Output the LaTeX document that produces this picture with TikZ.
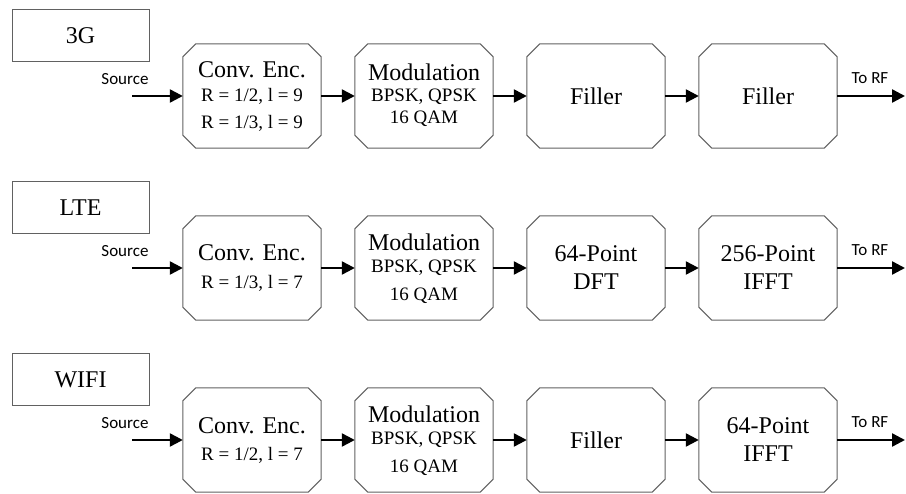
\documentclass[tikz,border=0pt]{standalone}
\usepackage{fontspec}
\setmainfont{Liberation Serif}
\newfontfamily\labelsans{Carlito}
\usetikzlibrary{arrows.meta}

\tikzset{
  blk/.style={rectangle, minimum width=138pt, minimum height=104pt, inner sep=0pt},
  blkline/.style={draw=black!62, line width=1pt, line join=miter},
  tagbox/.style={rectangle, draw=black!62, line width=1pt,
    minimum width=137pt, minimum height=52pt, inner sep=0pt,
    font=\fontsize{24}{26}\selectfont},
  big/.style={inner sep=0pt, font=\fontsize{24}{26}\selectfont},
  small/.style={inner sep=0pt, font=\fontsize{19}{21}\selectfont},
  side/.style={inner sep=0pt, font=\labelsans\fontsize{17}{19}\selectfont},
  flow/.style={line width=2.4pt, -{Triangle[length=13pt,width=13pt]}}
}
% octagonal outline around a named block
\newcommand\octo[1]{%
  \draw[blkline] ([xshift=13pt]#1.north west) -- ([xshift=-13pt]#1.north east)
    -- ([yshift=-13pt]#1.north east) -- ([yshift=13pt]#1.south east)
    -- ([xshift=-13pt]#1.south east) -- ([xshift=13pt]#1.south west)
    -- ([yshift=13pt]#1.south west) -- ([yshift=-13pt]#1.north west) -- cycle;}

\begin{document}
\begin{tikzpicture}[x=1pt,y=-1pt]
\path[use as bounding box, fill=white] (0,0) rectangle (906,494);

% ---------- 3G chain ----------
\node[tagbox] (tag1) at (80.5,36) {3G};
\node[blk] (enc1) at (252,96) {};
\node[blk] (mod1) at (424,96) {};
\node[blk] (fa1) at (596,96) {};
\node[blk] (fb1) at (768,96) {};
\octo{enc1}\octo{mod1}\octo{fa1}\octo{fb1}
\node[big]   (enc1a) at ([yshift=26pt]enc1.center) {Conv. Enc.};
\node[small] (enc1b) at (enc1.center) {R = 1/2, l = 9};
\node[small] (enc1c) at ([yshift=-27pt]enc1.center) {R = 1/3, l = 9};
\node[big]   (mod1a) at ([yshift=24pt]mod1.center) {Modulation};
\node[small] (mod1b) at ([yshift=-1pt]mod1.center) {BPSK, QPSK};
\node[small] (mod1c) at ([yshift=-23pt]mod1.center) {16 QAM};
\node[big]   (fa1t) at (fa1.center) {Filler};
\node[big]   (fb1t) at (fb1.center) {Filler};
\coordinate (in1) at (132,96);
\coordinate (out1) at (905,96);
\node[side] (src1) at (125,79) {Source};
\node[side] (rf1) at (870,78) {To RF};
\draw[flow] (in1) -- (enc1);
\draw[flow] (enc1) -- (mod1);
\draw[flow] (mod1) -- (fa1);
\draw[flow] (fa1) -- (fb1);
\draw[flow] (fb1) -- (out1);

% ---------- LTE chain ----------
\node[tagbox] (tag2) at (80.5,208) {LTE};
\node[blk] (enc2) at (252,268) {};
\node[blk] (mod2) at (424,268) {};
\node[blk] (dft2) at (596,268) {};
\node[blk] (ifft2) at (768,268) {};
\octo{enc2}\octo{mod2}\octo{dft2}\octo{ifft2}
\node[big]   (enc2a) at ([yshift=15pt]enc2.center) {Conv. Enc.};
\node[small] (enc2b) at ([yshift=-15pt]enc2.center) {R = 1/3, l = 7};
\node[big]   (mod2a) at ([yshift=26pt]mod2.center) {Modulation};
\node[small] (mod2b) at (mod2.center) {BPSK, QPSK};
\node[small] (mod2c) at ([yshift=-28pt]mod2.center) {16 QAM};
\node[big]   (dft2a) at ([yshift=14pt]dft2.center) {64-Point};
\node[big]   (dft2b) at ([yshift=-14pt]dft2.center) {DFT};
\node[big]   (ifft2a) at ([yshift=14pt]ifft2.center) {256-Point};
\node[big]   (ifft2b) at ([yshift=-14pt]ifft2.center) {IFFT};
\coordinate (in2) at (132,268);
\coordinate (out2) at (905,268);
\node[side] (src2) at (125,251) {Source};
\node[side] (rf2) at (870,250) {To RF};
\draw[flow] (in2) -- (enc2);
\draw[flow] (enc2) -- (mod2);
\draw[flow] (mod2) -- (dft2);
\draw[flow] (dft2) -- (ifft2);
\draw[flow] (ifft2) -- (out2);

% ---------- WIFI chain ----------
\node[tagbox] (tag3) at (80.5,380) {WIFI};
\node[blk] (enc3) at (252,440) {};
\node[blk] (mod3) at (424,440) {};
\node[blk] (fa3) at (596,440) {};
\node[blk] (ifft3) at (768,440) {};
\octo{enc3}\octo{mod3}\octo{fa3}\octo{ifft3}
\node[big]   (enc3a) at ([yshift=14pt]enc3.center) {Conv. Enc.};
\node[small] (enc3b) at ([yshift=-15pt]enc3.center) {R = 1/2, l = 7};
\node[big]   (mod3a) at ([yshift=26pt]mod3.center) {Modulation};
\node[small] (mod3b) at (mod3.center) {BPSK, QPSK};
\node[small] (mod3c) at ([yshift=-28pt]mod3.center) {16 QAM};
\node[big]   (fa3t) at (fa3.center) {Filler};
\node[big]   (ifft3a) at ([yshift=14pt]ifft3.center) {64-Point};
\node[big]   (ifft3b) at ([yshift=-14pt]ifft3.center) {IFFT};
\coordinate (in3) at (132,440);
\coordinate (out3) at (905,440);
\node[side] (src3) at (125,423) {Source};
\node[side] (rf3) at (870,422) {To RF};
\draw[flow] (in3) -- (enc3);
\draw[flow] (enc3) -- (mod3);
\draw[flow] (mod3) -- (fa3);
\draw[flow] (fa3) -- (ifft3);
\draw[flow] (ifft3) -- (out3);
\end{tikzpicture}
\end{document}
